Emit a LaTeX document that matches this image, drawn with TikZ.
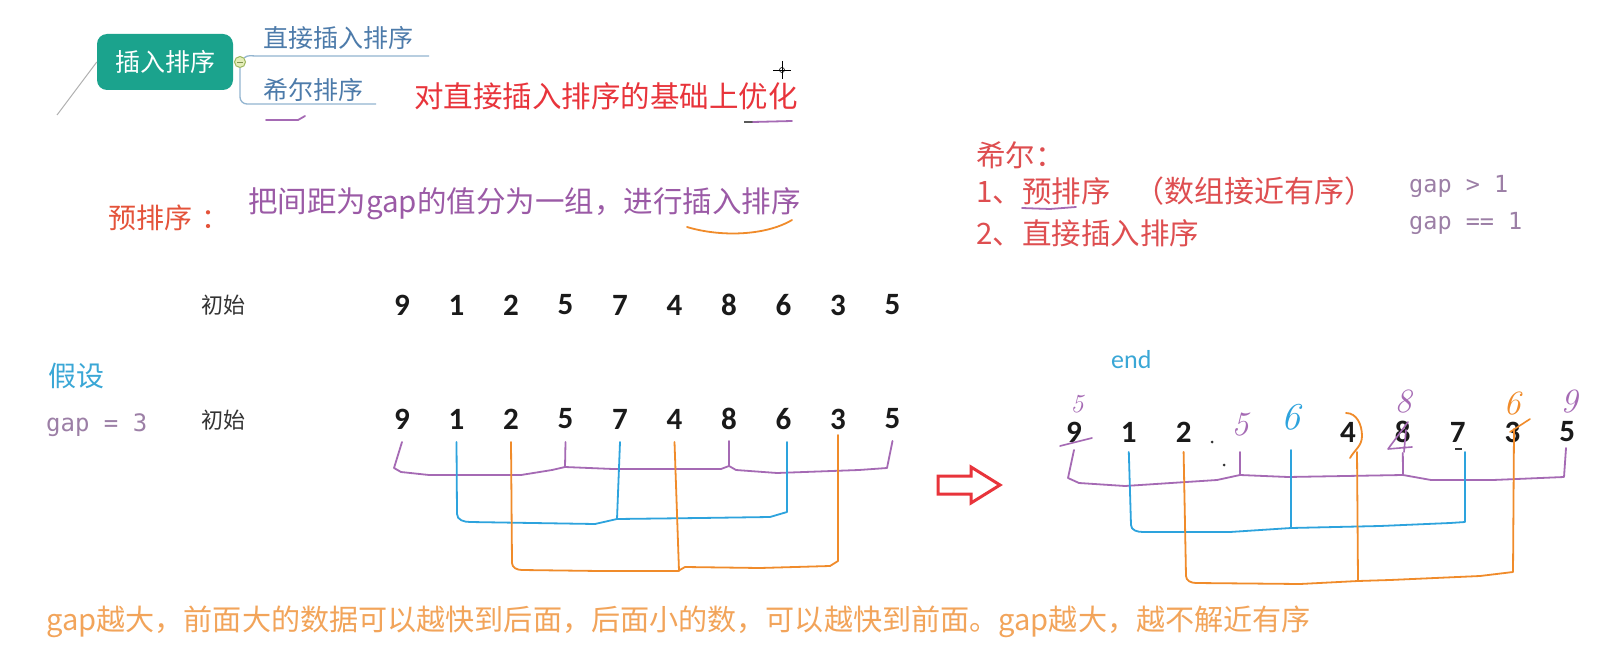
\documentclass[tikz,border=0pt]{standalone}
\usepackage{fontspec}
\newfontfamily\cjk{Noto Sans CJK SC}
\newfontfamily\numf{Carlito}
\newfontfamily\monof{DejaVu Sans Mono}
\definecolor{teal1}{HTML}{1BA38D}
\definecolor{knobfill}{HTML}{E4EDB8}
\definecolor{knobdraw}{HTML}{9DB760}
\definecolor{branchT}{HTML}{4D7BAA}
\definecolor{branchL}{HTML}{93B5D0}
\definecolor{redA}{HTML}{E8343B}
\definecolor{redB}{HTML}{DE4E50}
\definecolor{orred}{HTML}{E4533A}
\definecolor{purpT}{HTML}{9B5AA6}
\definecolor{purpL}{HTML}{A56AB4}
\definecolor{blueL}{HTML}{2DA3DD}
\definecolor{orL}{HTML}{F08B2A}
\definecolor{gapc}{HTML}{9C7FA6}
\definecolor{blueT}{HTML}{3AA7D6}
\definecolor{orT}{HTML}{F2A45A}
\definecolor{numc}{HTML}{1A1A1A}
\definecolor{initc}{HTML}{333333}
\tikzset{
  txt/.style={anchor=west, inner sep=0pt},
  cnA/.style={font=\cjk\fontsize{29.5}{34}\selectfont},
  numst/.style={inner sep=0pt, font=\numf\bfseries\fontsize{31}{34}\selectfont, text=numc},
  hand/.style={inner sep=0pt, font=\itshape\fontsize{34}{38}\selectfont},
  pline/.style={draw=purpL, line width=1.8pt, line join=round, line cap=round},
  bline/.style={draw=blueL, line width=1.8pt, line join=round, line cap=round},
  oline/.style={draw=orL, line width=1.8pt, line join=round, line cap=round},
}
\begin{document}
\begin{tikzpicture}[x=1pt,y=-1pt]
\useasboundingbox[fill=white] (0,0) rectangle (1603,647);

% ---------- mind map ----------
\node[rounded corners=10pt, fill=teal1, minimum width=136pt, minimum height=56pt,
      text=white, font=\cjk\fontsize{25}{30}\selectfont, inner sep=0pt] (root) at (165,62) {插入排序};
\coordinate (rootend) at (57,115);
\draw[gray!60, line width=1pt] (root.west) -- (rootend);
\node[circle, draw=knobdraw, fill=knobfill, minimum size=11pt, inner sep=0pt, line width=1pt] (knob) at (240,62) {};
\draw[knobdraw!80!black, line width=0.8pt] ([xshift=-3pt]knob.center) -- ([xshift=3pt]knob.center);
\node[txt, text=branchT, font=\cjk\fontsize{25}{30}\selectfont] (b1) at (263,38) {直接插入排序};
\node[txt, text=branchT, font=\cjk\fontsize{25}{30}\selectfont] (b2) at (263,90) {希尔排序};
\coordinate (b1e) at (429,56);
\coordinate (b2e) at (376,104);
\draw[branchL, line width=1.3pt] (knob.north east) to[out=40,in=180] (256,56) -- (b1e);
\draw[branchL, line width=1.3pt, rounded corners=7pt] (knob.south) |- (b2e);
\draw[purpL, line width=1.8pt, line cap=round] (266,120) -- (298,120) -- (305,116);

\node[txt, cnA, text=redA] (opt) at (414,96) {对直接插入排序的基础上优化};
\draw[gray!70!black, line width=1.8pt] (744,122) -- (753,122);
\draw[purpL, line width=1.8pt, line cap=round] (753,122) -- (792,121);
% cursor
\draw[black, line width=0.6pt] (782,61) -- (782,79) (773,70) -- (791,70);
\draw[black, line width=0.6pt] (782,70) circle (2.5pt);

% ---------- shell block ----------
\node[txt, cnA, text=redB] (xe) at (976,155) {希尔：};
\node[txt, cnA, text=redB] (s1) at (976,191) {1、预排序};
\node[txt, font=\cjk\fontsize{30}{34}\selectfont, text=redB] (s1b) at (1134,191) {（数组接近有序）};
\node[txt, cnA, text=redB] (s2) at (976,233) {2、直接插入排序};
\draw[purpL, line width=1.8pt, line cap=round] (1022,208) -- (1050,209) -- (1076,207);
\node[txt, text=gapc, font=\monof\fontsize{23.5}{28}\selectfont] (g1) at (1409,186) {gap > 1};
\node[txt, text=gapc, font=\monof\fontsize{23.5}{28}\selectfont] (g2) at (1409,223) {gap == 1};

% ---------- pre-sort ----------
\node[txt, text=orred, font=\cjk\fontsize{28}{32}\selectfont] (pre) at (108,218) {预排序\hspace{9pt}：};
\node[txt, cnA, text=purpT] (def) at (248,204) {把间距为gap的值分为一组，进行插入排序};
\draw[orL, line width=1.8pt, line cap=round] (687,227) .. controls (720,237) and (765,236) .. (792,220);

% ---------- rows ----------
\node[txt, text=initc, font=\cjk\fontsize{22}{26}\selectfont] (init1) at (201,305) {初始};
\node[txt, text=initc, font=\cjk\fontsize{22}{26}\selectfont] (init2) at (201,420) {初始};
\foreach \v [count=\i from 0] in {9,1,2,5,7,4,8,6,3,5}
  \node[numst] (A\i) at (402+54.5*\i,305) {\v};
\foreach \v [count=\i from 0] in {9,1,2,5,7,4,8,6,3,5}
  \node[numst] (L\i) at (402+54.5*\i,419) {\v};

\node[txt, text=blueT, font=\cjk\fontsize{28}{32}\selectfont] (hyp) at (48,376) {假设};
\node[txt, text=gapc, font=\monof\fontsize{24}{28}\selectfont] (gap3) at (46,425) {gap = 3};

% left brackets
\draw[pline] (L0.south |- 0,442) -- (394,468) -- (401,472) -- (429,475) -- (521,475) -- (552,470)
  -- (565,467) -- (613,469) -- (721,469) -- (729,466) -- (736,470) -- (777,473) -- (859,470)
  -- (887,468) -- (L9.south |- 0,441);
\draw[pline] (L3.south |- 0,442) -- (565,467);
\draw[pline] (L6.south |- 0,441) -- (729,466);

\draw[bline] (L1.south |- 0,442) -- (457,514) to[out=-90,in=180] (470,522) -- (595,524) -- (617,519)
  -- (700,518) -- (770,517) -- (787,512) -- (787,442);
\draw[bline] (L4.south |- 0,442) -- (617,519);

\draw[oline] (L2.south |- 0,442) -- (512,563) to[out=-90,in=180] (522,570) -- (600,571) -- (678,571)
  -- (685,567) -- (760,568) -- (830,566) -- (838,561) -- (L8.south |- 0,435);
\draw[oline] (L5.south |- 0,442) -- (679,571);

% arrow
\draw[redA, line width=3pt, line join=miter, fill=white]
  (938,476) -- (971,476) -- (971,467) -- (1000,485) -- (971,503) -- (971,494) -- (938,494) -- cycle;

\node[txt, text=blueT, font=\numf\fontsize{26}{30}\selectfont] (endl) at (1111,360) {end};

% right row
\foreach \v/\i in {9/0,1/1,2/2,4/5,8/6,7/7,3/8,5/9}
  \node[numst] (R\i) at (1074+54.8*\i,432) {\v};
\node[hand, text=purpL] (R3) at (1240,425) {5};
\node[hand, text=blueL, font=\itshape\fontsize{38}{40}\selectfont] (R4) at (1291,417) {6};
% handwritten overlays
\node[hand, text=purpL, font=\itshape\fontsize{26}{30}\selectfont] (h0) at (1077,404) {5};
\draw[purpL, line width=1.6pt, line cap=round] (1060,446) -- (1092,438);
\node[hand, text=purpL] (h6) at (1403,402) {8};
\draw[purpL, line width=1.6pt, line cap=round, line join=round] (1408,422) -- (1388,449) -- (1412,447) (1406,430) -- (1404,452);
\node[hand, text=orL] (h8) at (1512,404) {6};
\draw[orL, line width=1.6pt, line cap=round] (1510,432) -- (1530,419);
\node[hand, text=purpL] (h9) at (1569,402) {9};
\fill[initc] (1212,442) circle (1.5pt) (1224,465) circle (1.5pt);
\draw[initc, line width=1.5pt] (1455,449) -- (1462,449);

% right brackets
\draw[pline] (R0.south |- 0,450) -- (1068,478) -- (1079,483) -- (1125,486) -- (1217,480) -- (1240,475)
  -- (1288,477) -- (1403,475) -- (1431,480) -- (1493,480) -- (1564,477) -- (1566,448);
\draw[pline] (1240,452) -- (1240,475);
\draw[pline] (R6.south |- 0,453) -- (1403,475);

\draw[bline] (R1.south |- 0,452) -- (1131,525) to[out=-90,in=180] (1143,532) -- (1230,532) -- (1291,528)
  -- (1380,526) -- (1450,523) -- (1465,522) -- (1465,452);
\draw[bline] (R4.south |- 0,450) -- (1291,528);

\draw[oline] (1346,413) to[out=0,in=90] (1362,436) to[out=-90,in=60] (1350,458);
\draw[oline] (R2.south |- 0,452) -- (1186,576) to[out=-90,in=180] (1196,583) -- (1300,584) -- (1358,581)
  -- (1390,580) -- (1480,576) -- (1513,572) -- (1514,429);
\draw[oline] (1357,452) -- (1358,581);

% bottom text
\node[txt, text=orT, font=\cjk\fontsize{29.1}{34}\selectfont] (bot) at (46,622)
  {gap越大，前面大的数据可以越快到后面，后面小的数，可以越快到前面。gap越大，越不解近有序};
\end{tikzpicture}
\end{document}
